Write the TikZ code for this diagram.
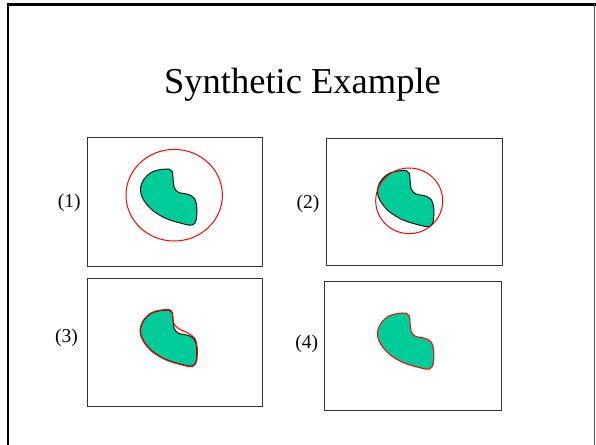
\documentclass[tikz,border=0pt]{standalone}
\usepackage{fontspec}
\setmainfont{Liberation Serif}
\definecolor{blobteal}{RGB}{0,204,153}
\begin{document}
\begin{tikzpicture}[x=1pt,y=-1pt,
  panel/.style={draw=black!80,line width=1pt},
  redline/.style={draw=red,line width=1pt},
  lab/.style={font=\fontsize{19.5}{22}\selectfont,inner sep=0pt},
  blob/.pic={\path[pic actions] plot[smooth cycle,tension=0.55] coordinates {
     (161.7,169.4) (169.5,169.2) (172.3,171.8) (173.2,180) (174.2,187.5)
     (178.5,192.3) (188.5,194.5) (194.5,198.5) (196.8,207) (196.2,220)
     (192.5,225) (184,224) (166,218.5) (151.5,209.5) (142.5,198)
     (140.5,188) (144.5,178.5) (152,172)};},
  blobred/.pic={\path[pic actions] plot[smooth cycle,tension=0.55] coordinates {
     (161.7,169.0) (169.5,168.8) (172.0,171.5) (173.3,181.5) (178.3,187.3)
     (188.3,192.3) (194.8,197.5) (197.2,207) (196.6,220)
     (192.7,225.4) (184,224.4) (166,218.9) (151.2,209.8) (142.1,198)
     (140.1,188) (144.1,178.3) (151.8,171.6)};}
]
\useasboundingbox (0,0) rectangle (596,444);
% outer frame
\draw[line width=2.6pt] (8,450) -- (8,4.5) -- (597,4.5);
\draw[line width=1pt,black!70] (594.5,4.5) -- (594.5,450);
% title
\node[anchor=base,font=\fontsize{36.5}{40}\selectfont,inner sep=0pt] (title) at (302.5,93.3) {Synthetic Example};
% panels
\draw[panel] (87.5,137) rectangle (262.5,266);
\draw[panel] (326,138.3) rectangle (502.7,265.7);
\draw[panel] (87,278.3) rectangle (262.7,406.7);
\draw[panel] (324,281.7) rectangle (501.7,410);
% panel 1
\pic[fill=blobteal,draw=black,line width=0.9pt] at (0,0) {blob};
\draw[redline] (174.2,195.2) ellipse [x radius=48.2pt,y radius=45.8pt];
% panel 2
\pic[fill=blobteal,draw=black,line width=0.9pt] at (237,1.5) {blob};
\draw[redline] (409.2,200.8) ellipse [x radius=33.5pt,y radius=32.8pt];
% panel 3
\pic[fill=blobteal,draw=black,line width=0.9pt] at (0,141) {blob};
\pic[draw=red,line width=1.1pt] at (0,141) {blobred};
% panel 4
\pic[fill=blobteal,draw=red,line width=1pt] at (237,144) {blob};
% labels
\node[lab] (l1) at (69.2,203.3) {(1)};
\node[lab] (l2) at (308,204) {(2)};
\node[lab] (l3) at (66.5,337.7) {(3)};
\node[lab] (l4) at (306.8,344.3) {(4)};
\end{tikzpicture}
\end{document}
